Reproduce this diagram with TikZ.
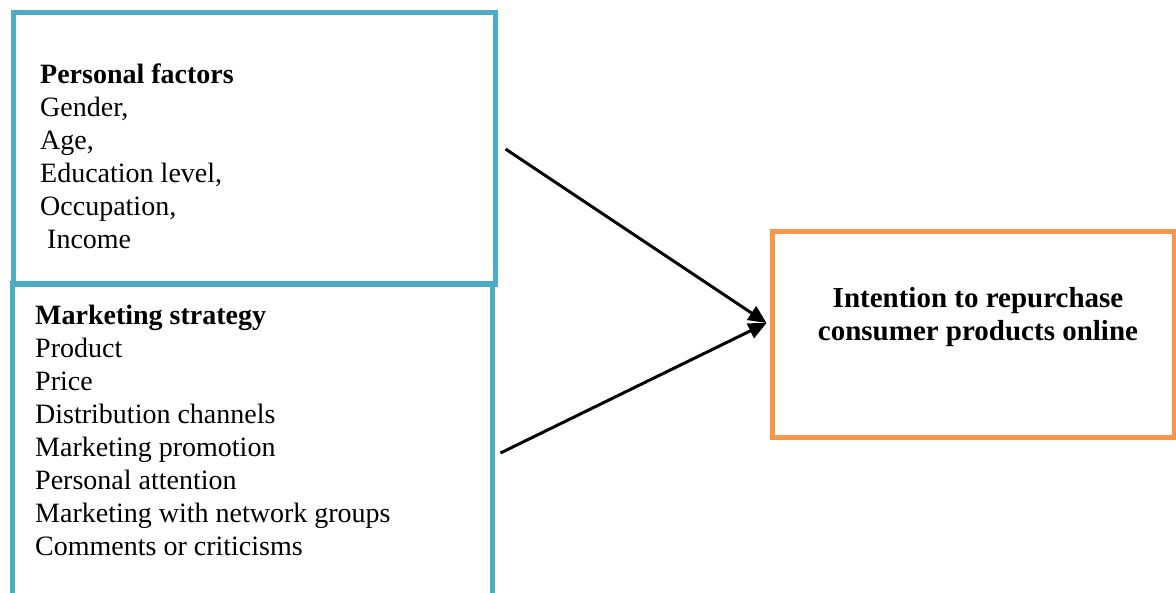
\documentclass[tikz,border=0pt]{standalone}
\usepackage{fontspec}
\setmainfont{Liberation Serif}
\usetikzlibrary{arrows.meta}
\definecolor{boxblue}{HTML}{4BACC6}
\definecolor{boxorange}{HTML}{F79646}
\tikzset{
  bluebox/.style={draw=boxblue, line width=5pt, inner sep=0pt},
  orangebox/.style={draw=boxorange, line width=5pt, inner sep=0pt},
  txt/.style={inner sep=0pt, anchor=base west},
  conn/.style={line width=3pt, -{Triangle[length=18pt,width=16pt]}}
}
\newcommand{\lines}[1]{\parbox[t]{440pt}{\raggedright\fontsize{28}{33}\selectfont #1}}
\begin{document}
\begin{tikzpicture}[x=1pt,y=-1pt]
\useasboundingbox (0,0) rectangle (1176,593);
\clip (0,0) rectangle (1176,593);
\fill[white] (0,0) rectangle (1176,593);
% boxes
\node[bluebox, minimum width=482pt, minimum height=272pt] (pf) at (254,149) {};
\node[bluebox, minimum width=480pt, minimum height=338pt] (ms) at (252,453) {};
\node[orangebox, minimum width=402pt, minimum height=206pt] (ir) at (973,335) {};
% texts
\node[txt] (pft) at (40,84) {\lines{\textbf{Personal factors}\\Gender,\\Age,\\Education level,\\Occupation,\\\hspace{0.25em}Income}};
\node[txt] (mst) at (35,325) {\lines{\textbf{Marketing strategy}\\Product\\Price\\Distribution channels\\Marketing promotion\\Personal attention\\Marketing with network groups\\Comments or criticisms}};
\node[font=\bfseries\fontsize{29}{33}\selectfont, align=center, inner sep=0pt] (irt) at (978,317) {Intention to repurchase\\consumer products online};
% connectors
\draw[conn] ([xshift=8pt]pf.east) -- ([xshift=-3pt,yshift=12pt]ir.west);
\draw[conn] ([xshift=6pt]ms.east) -- ([xshift=-3pt,yshift=12pt]ir.west);
\end{tikzpicture}
\end{document}
